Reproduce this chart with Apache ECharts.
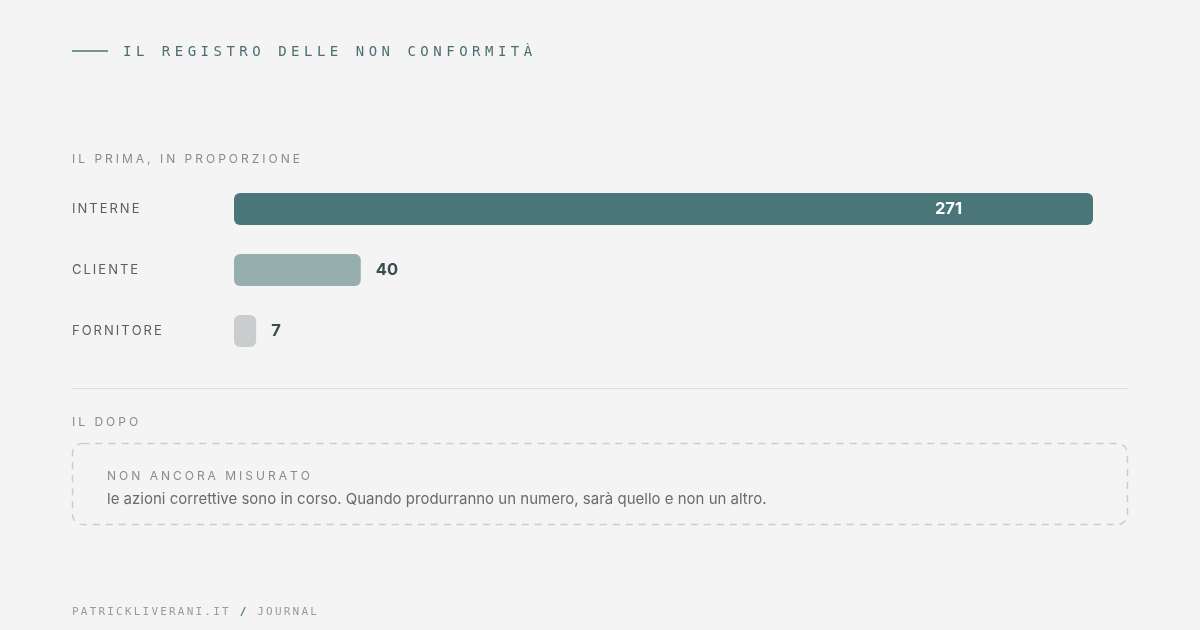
<!DOCTYPE html>
<html>
<head>
<meta charset="utf-8">
<title>Il registro delle non conformità</title>
<script src="https://cdn.jsdelivr.net/npm/echarts@6/dist/echarts.min.js"></script>
<style>
  html,body{margin:0;padding:0;background:#f4f4f4;}
  #chart{width:1200px;height:630px;}
</style>
</head>
<body>
<div id="chart"></div>
<script>
// dati
var categorie = ['INTERNE', 'CLIENTE', 'FORNITORE'];
var valori = [271, 40, 7];
var titolo = 'IL REGISTRO DELLE NON CONFORMITÀ';
var sezionePrima = 'IL PRIMA, IN PROPORZIONE';
var sezioneDopo = 'IL DOPO';
var notaTitolo = 'NON ANCORA MISURATO';
var notaTesto = 'le azioni correttive sono in corso. Quando produrranno un numero, sarà quello e non un altro.';
var piede = ['PATRICKLIVERANI.IT', '/', 'JOURNAL'];

// colori delle barre
var palette = ['#4b7679', '#97aeaf', '#c9cdce'];

// lettere spaziate tramite rich text
function spaziato(str, key) {
    return str.split('').map(function (c) { return '{' + key + '|' + c + '}'; }).join('');
}

var sans = 'Inter, "Noto Sans", sans-serif';
var mono = '"DejaVu Sans Mono", "Liberation Mono", monospace';

var myChart = echarts.init(document.getElementById('chart'));

var seriesData = [];
for (var i = 0; i < valori.length; i++) {
    var lab;
    if (i == 0) {
        lab = { show: true, position: 'insideRight', distance: 131, color: '#ffffff' };
    } else {
        lab = { show: true, position: 'right', distance: 15, color: '#3b4d50' };
    }
    seriesData.push({
        value: valori[i],
        itemStyle: { color: palette[i], borderRadius: 6 },
        label: lab
    });
}

var etichetta = { fontFamily: sans, fontSize: 12, fill: '#8a8a8a', padding: [0, 3, 0, 0] };

var option = {
    backgroundColor: '#f4f4f4',
    animation: false,
    grid: { left: 234, right: 107, top: 178.5, height: 183, containLabel: false },
    xAxis: {
        type: 'value', min: 0, max: 271,
        show: false
    },
    yAxis: {
        type: 'category',
        inverse: true,
        data: categorie,
        axisLine: { show: false },
        axisTick: { show: false },
        axisLabel: {
            align: 'left',
            margin: 162,
            formatter: function (v) { return spaziato(v, 'c'); },
            rich: {
                c: { fontFamily: sans, fontSize: 13, color: '#5a5f60', padding: [0, 2, 0, 0] }
            }
        }
    },
    series: [{
        type: 'bar',
        barWidth: 32,
        data: seriesData,
        label: { fontFamily: sans, fontSize: 16.5, fontWeight: 700 }
    }],
    graphic: [
        // testata
        { type: 'line', shape: { x1: 72, y1: 51, x2: 108, y2: 51 }, style: { stroke: '#4b7679', lineWidth: 1.5 } },
        { type: 'text', x: 123, y: 52, style: {
            text: spaziato(titolo, 't'), verticalAlign: 'middle',
            rich: { t: { fontFamily: mono, fontSize: 14, fill: '#4b6f72', padding: [0, 4.5, 0, 0] } }
        } },
        // sezione prima
        { type: 'text', x: 72, y: 159, style: {
            text: spaziato(sezionePrima, 's'), verticalAlign: 'middle',
            rich: { s: etichetta }
        } },
        // divisore
        { type: 'line', shape: { x1: 72, y1: 388.5, x2: 1128, y2: 388.5 }, style: { stroke: '#dedede', lineWidth: 1 } },
        // sezione dopo
        { type: 'text', x: 72, y: 422, style: {
            text: spaziato(sezioneDopo, 's'), verticalAlign: 'middle',
            rich: { s: etichetta }
        } },
        { type: 'rect', shape: { x: 72.5, y: 443.5, width: 1055, height: 81, r: 10 },
          style: { fill: 'none', stroke: '#cccccc', lineWidth: 1.5, lineDash: [7, 6] } },
        { type: 'text', x: 107, y: 476, style: {
            text: spaziato(notaTitolo, 's'), verticalAlign: 'middle',
            rich: { s: etichetta }
        } },
        { type: 'text', x: 107, y: 499, style: {
            text: notaTesto, verticalAlign: 'middle',
            fontFamily: sans, fontSize: 15, fill: '#6a6a6a'
        } },
        // piede
        { type: 'text', x: 72, y: 612, style: {
            text: spaziato(piede[0], 'f') + '{f| }' + spaziato(piede[1], 'g') + '{f| }' + spaziato(piede[2], 'f'),
            verticalAlign: 'middle',
            rich: {
                f: { fontFamily: mono, fontSize: 11, fill: '#9a9a9a', padding: [0, 2.2, 0, 0] },
                g: { fontFamily: mono, fontSize: 11, fill: '#4b7679', fontWeight: 700, padding: [0, 2.2, 0, 0] }
            }
        } }
    ]
};

myChart.setOption(option);
</script>
</body>
</html>
